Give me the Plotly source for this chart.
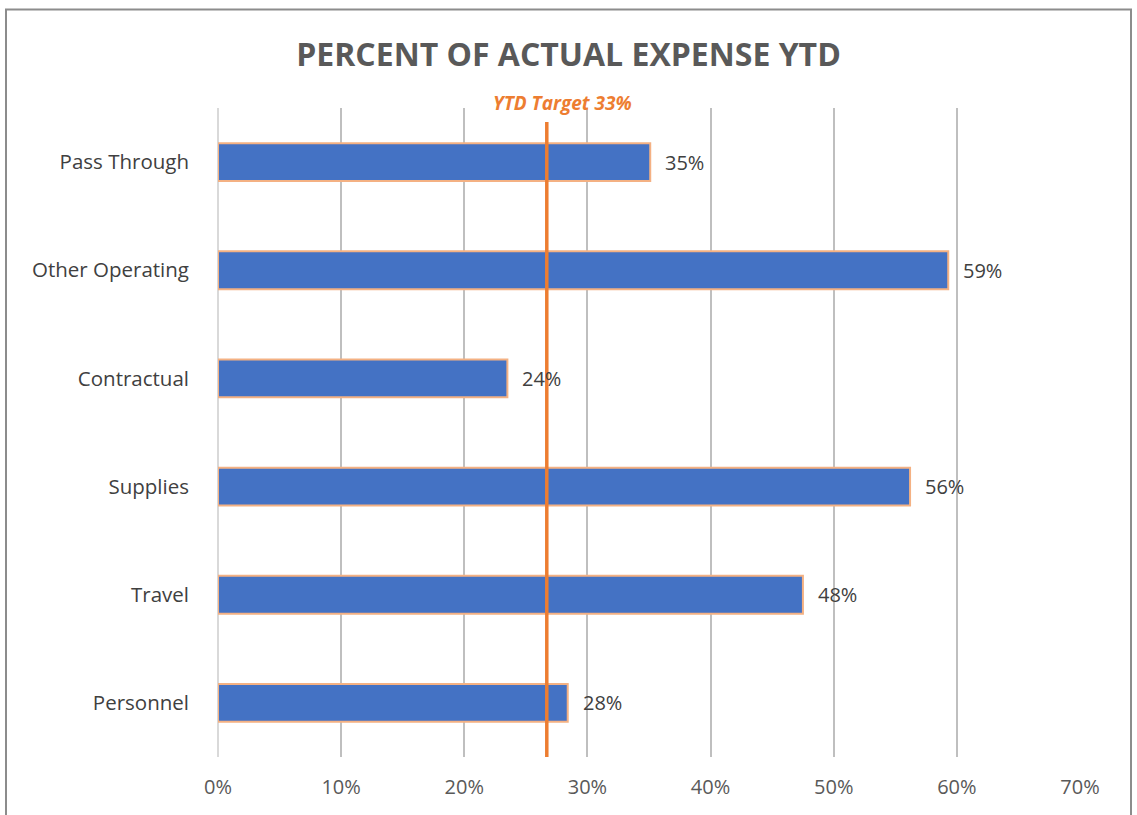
import plotly.graph_objects as go

categories = ["Personnel", "Travel", "Supplies", "Contractual", "Other Operating", "Pass Through"]
values = [28.4, 47.5, 56.2, 23.5, 59.3, 35.1]
labels = ["28%", "48%", "56%", "24%", "59%", "35%"]
tick_vals = [0, 10, 20, 30, 40, 50, 60, 70]
tick_text = ["0%", "10%", "20%", "30%", "40%", "50%", "60%", "70%"]
target_value = 26.7
target_label = "YTD Target 33%"
title = "PERCENT OF ACTUAL EXPENSE YTD"

W, H = 1137, 815
L, R, T, B = 218, 57, 108, 58
pw, ph = W - L - R, H - T - B
FONT = "Open Sans, Noto Sans, sans-serif"

def px_x(p):
    return (p - L) / pw

def px_y(p):
    return (H - B - p) / ph

fig = go.Figure()
fig.add_trace(go.Bar(
    y=categories, x=values, orientation="h",
    marker=dict(color="#4472C4", line=dict(color="#F4B183", width=2)),
    width=0.35,
    hoverinfo="skip",
))

for c, v, t in zip(categories, values, labels):
    fig.add_annotation(x=v, y=c, xref="x", yref="y", text=t, showarrow=False,
                       xanchor="left", yanchor="middle", xshift=13,
                       font=dict(family=FONT, size=20, color="#404040"))

fig.update_layout(
    width=W, height=H,
    margin=dict(l=L, r=R, t=T, b=B),
    paper_bgcolor="white", plot_bgcolor="white",
    showlegend=False,
    title=dict(text="<b>" + title + "</b>", x=0.5, xanchor="center",
               y=1 - 55 / H, yanchor="middle",
               font=dict(family=FONT, size=32, color="#595959")),
    xaxis=dict(range=[0, 70], tickvals=tick_vals, ticktext=tick_text,
               showgrid=True, gridcolor="#BFBFBF", gridwidth=1.5,
               zeroline=True, zerolinecolor="#D9D9D9", zerolinewidth=1.5,
               showline=False, ticks="",
               tickfont=dict(family=FONT, size=20, color="#595959"),
               ticklabelstandoff=16),
    yaxis=dict(categoryorder="array", categoryarray=categories,
               showgrid=False, zeroline=False, showline=False, ticks="",
               tickfont=dict(family=FONT, size=20.5, color="#404040"),
               ticklabelstandoff=28),
)

# target line
fig.add_shape(type="line", xref="x", yref="paper",
              x0=target_value, x1=target_value, y0=0, y1=px_y(122),
              line=dict(color="#ED7D31", width=3.5))
fig.add_annotation(xref="x", yref="paper", x=target_value + 1.3, y=px_y(103),
                   text="<b><i>" + target_label + "</i></b>", showarrow=False,
                   xanchor="center", yanchor="middle",
                   font=dict(family=FONT, size=19, color="#ED7D31"))

# outer chart border
fig.add_shape(type="rect", xref="paper", yref="paper",
              x0=px_x(6), x1=px_x(1131), y0=px_y(830), y1=px_y(9.5),
              line=dict(color="#8C8C8C", width=2), fillcolor="rgba(0,0,0,0)", layer="below")

fig.write_html("out.html", config={"displayModeBar": False},
               post_script="document.body.style.margin='0';document.body.style.overflow='hidden';")
